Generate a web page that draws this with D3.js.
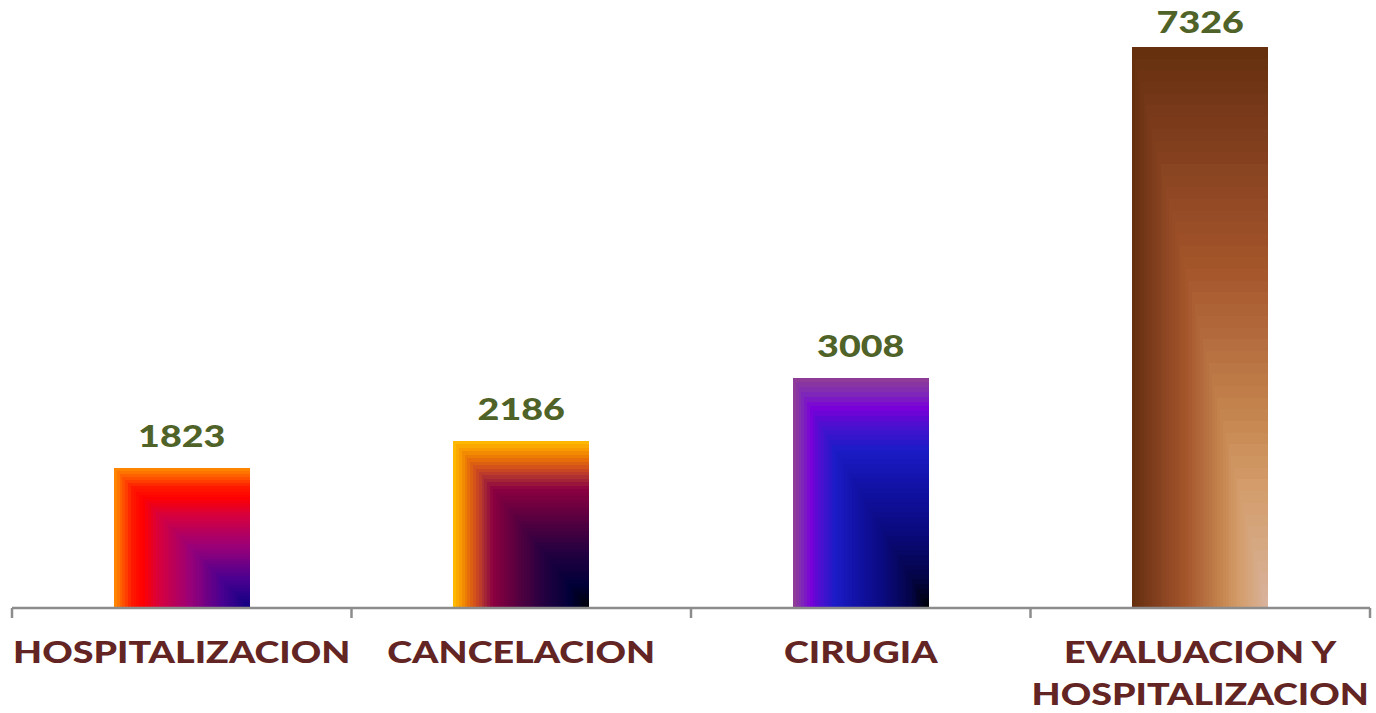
<!DOCTYPE html>
<html>
<head>
<meta charset="utf-8">
<script src="https://cdn.jsdelivr.net/npm/d3@7"></script>
<style>
  html, body { margin: 0; padding: 0; background: #ffffff; }
  svg { display: block; }
</style>
</head>
<body>
<svg id="chart" width="1376" height="713"></svg>
<script>
// ---- data ----
const categories = ["HOSPITALIZACION", "CANCELACION", "CIRUGIA", "EVALUACION Y HOSPITALIZACION"];
const values = [1823, 2186, 3008, 7326];

// ---- corner-gradient colour stops (t = 0 at bottom-right corner, 1 at top/left edges) ----
const stops1 = [[0, "#0c0080"], [0.22, "#4a0090"], [0.45, "#9a0078"], [0.68, "#d8003c"], [0.8, "#ff0000"], [0.88, "#ff1a00"], [0.93, "#ff4a00"], [1, "#ff8400"]];
const stops2 = [[0, "#000000"], [0.15, "#000038"], [0.35, "#250040"], [0.55, "#5a0040"], [0.72, "#8c0040"], [0.78, "#a82a35"], [0.84, "#cc4a20"], [0.9, "#e87008"], [0.95, "#f69400"], [1, "#ffb800"]];
const stops3 = [[0, "#000000"], [0.15, "#04044a"], [0.35, "#0a0a80"], [0.55, "#1212a8"], [0.7, "#1c1cc8"], [0.8, "#4a10d0"], [0.88, "#7a00d8"], [0.94, "#7e28b8"], [1, "#8e3c98"]];
const stops4 = [[0, "#d8b4a2"], [0.1, "#d6aa88"], [0.22, "#d49e6c"], [0.35, "#c6864f"], [0.5, "#b26a3c"], [0.62, "#a4552a"], [0.75, "#904824"], [0.88, "#7a3a1a"], [1, "#66300f"]];
const barStops = [stops1, stops2, stops3, stops4];

// ---- layout ----
const axisY = 608, topY = 47;
const svg = d3.select("#chart");

const x = d3.scaleBand().domain(categories).range([12, 1370]).paddingInner(0.6).paddingOuter(0.3);
const xEdges = d3.scaleBand().domain(categories).range([12, 1370]).padding(0);
const y = d3.scaleLinear().domain([0, d3.max(values)]).range([axisY, topY]);

// bars with rectangular gradient from bottom-right corner
const N = 48;
categories.forEach((c, i) => {
  const x0 = x(c), w = x.bandwidth();
  const y0 = y(values[i]), h = y(0) - y(values[i]);
  const st = barStops[i];
  const col = d3.scaleLinear().domain(st.map(s => s[0])).range(st.map(s => s[1])).interpolate(d3.interpolateRgb);
  const g = svg.append("g").attr("class", "bar");
  g.selectAll("rect").data(d3.range(N)).join("rect")
    .attr("x", k => x0 + (k / N) * w)
    .attr("y", k => y0 + (k / N) * h)
    .attr("width", k => w * (1 - k / N))
    .attr("height", k => h * (1 - k / N))
    .attr("fill", k => col(1 - k / N))
    .attr("shape-rendering", "crispEdges");
});

// axis
const axisG = svg.append("g").attr("transform", `translate(0,${axisY})`);
axisG.append("line").attr("x1", 12).attr("x2", 1370).attr("y1", 0).attr("y2", 0)
  .attr("stroke", "#8c8c8c").attr("stroke-width", 2.5);
const tickXs = categories.map(c => xEdges(c)).concat([xEdges(categories[categories.length - 1]) + xEdges.bandwidth()]);
axisG.selectAll("line.tick").data(tickXs).join("line").attr("class", "tick")
  .attr("x1", d => d).attr("x2", d => d).attr("y1", 0).attr("y2", 10)
  .attr("stroke", "#8c8c8c").attr("stroke-width", 2.5);

// value labels
const SX = 1.235;
const FW = 900;
svg.selectAll("text.val").data(values).join("text").attr("class", "val")
  .attr("transform", (d, i) => `translate(${x(categories[i]) + x.bandwidth() / 2},${Math.max(33, y(d) - 21)}) scale(${SX},1)`)
  .attr("text-anchor", "middle")
  .attr("font-family", "Lato, 'Open Sans', sans-serif")
  .attr("font-weight", FW)
  .attr("font-size", 30.5)
  .attr("fill", "#4f6228")
  .text(d => d);

// category labels (wrapped to band width)
categories.forEach((c, i) => {
  const cx = xEdges(c) + xEdges.bandwidth() / 2;
  const t = svg.append("text")
    .attr("transform", `translate(${cx},663) scale(${SX},1)`)
    .attr("text-anchor", "middle")
    .attr("font-family", "Lato, 'Open Sans', sans-serif")
    .attr("font-weight", FW)
    .attr("font-size", 30.5)
    .attr("fill", "#632523");
  const words = c.split(" ");
  const maxW = xEdges.bandwidth() / SX;
  let line = [];
  let ts = t.append("tspan").attr("x", 0).attr("dy", 0);
  words.forEach(wd => {
    line.push(wd);
    ts.text(line.join(" "));
    if (ts.node().getComputedTextLength() > maxW && line.length > 1) {
      line.pop();
      ts.text(line.join(" "));
      line = [wd];
      ts = t.append("tspan").attr("x", 0).attr("dy", 42).text(wd);
    }
  });
});
</script>
</body>
</html>
